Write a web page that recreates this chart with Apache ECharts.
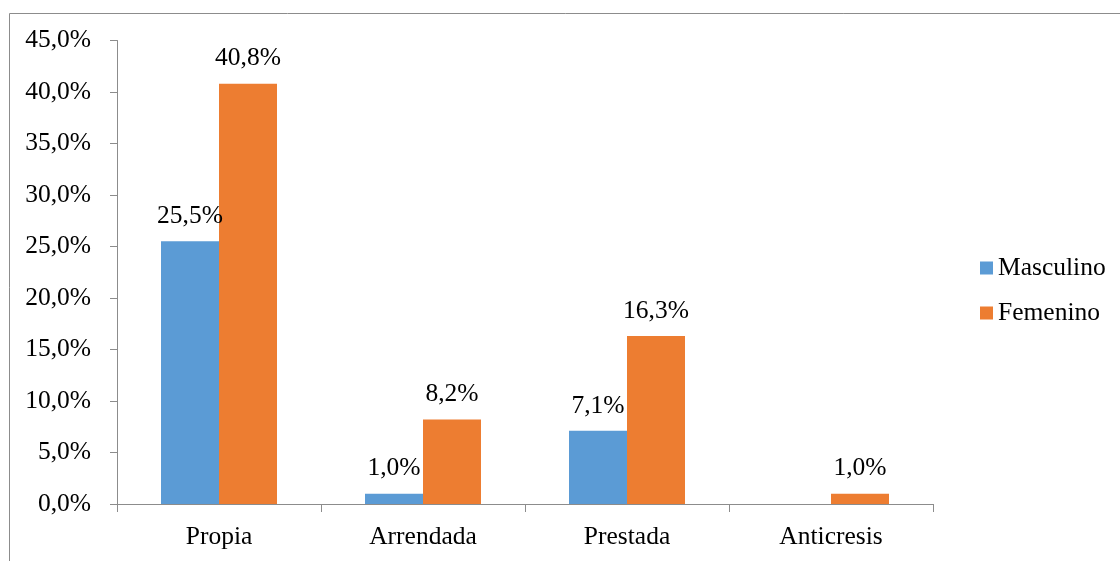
<!DOCTYPE html>
<html>
<head>
<meta charset="utf-8">
<script src="https://cdn.jsdelivr.net/npm/echarts@6/dist/echarts.min.js"></script>
<style>
  html, body { margin: 0; padding: 0; background: #fff; }
  #chart { width: 1120px; height: 561px; }
</style>
</head>
<body>
<div id="chart"></div>
<script>
// Tipo de vivienda por sexo (porcentaje)
const categories = ['Propia', 'Arrendada', 'Prestada', 'Anticresis'];
const masculino = [25.5, 1.0, 7.1, null];
const femenino = [40.8, 8.2, 16.3, 1.0];
const yTicks = [0, 5, 10, 15, 20, 25, 30, 35, 40, 45];

const FONT = '"Liberation Serif", "Times New Roman", serif';
const FS = 25.5;
const fmt = v => v.toFixed(1).replace('.', ',') + '%';

const chart = echarts.init(document.getElementById('chart'));

const labelStyle = {
  show: true,
  position: 'top',
  distance: 12,
  fontFamily: FONT,
  fontSize: FS,
  color: '#000',
  formatter: p => (p.value == null ? '' : fmt(p.value))
};

chart.setOption({
  animation: false,
  backgroundColor: '#fff',
  textStyle: { fontFamily: FONT },
  graphic: [{
    type: 'rect',
    left: 7,
    top: 11,
    shape: { width: 1300, height: 700 },
    style: { fill: 'none', stroke: '#8c8c8c', lineWidth: 1 },
    silent: true
  }],
  grid: { left: 117, right: 187, top: 40.5, bottom: 57 },
  legend: {
    orient: 'vertical',
    left: 975,
    top: 250,
    itemWidth: 13,
    itemHeight: 13,
    itemGap: 19,
    icon: 'rect',
    textStyle: { fontFamily: FONT, fontSize: FS, color: '#000' },
    data: ['Masculino', 'Femenino']
  },
  xAxis: {
    type: 'category',
    data: categories,
    axisLine: { lineStyle: { color: '#8c8c8c' } },
    axisTick: { show: true, length: 8, lineStyle: { color: '#8c8c8c' } },
    axisLabel: { margin: 20, fontFamily: FONT, fontSize: FS, color: '#000' }
  },
  yAxis: {
    type: 'value',
    min: yTicks[0],
    max: yTicks[yTicks.length - 1],
    interval: 5,
    splitLine: { show: false },
    axisLine: { show: true, lineStyle: { color: '#8c8c8c' } },
    axisTick: { show: true, length: 7, lineStyle: { color: '#8c8c8c' } },
    axisLabel: { margin: 26, fontFamily: FONT, fontSize: FS, color: '#000', formatter: v => fmt(v) }
  },
  series: [
    {
      name: 'Masculino',
      type: 'bar',
      data: masculino,
      barWidth: 58,
      barGap: '0%',
      itemStyle: { color: '#5B9BD5' },
      label: labelStyle
    },
    {
      name: 'Femenino',
      type: 'bar',
      data: femenino,
      barWidth: 58,
      itemStyle: { color: '#ED7D31' },
      label: labelStyle
    }
  ]
});
</script>
</body>
</html>
